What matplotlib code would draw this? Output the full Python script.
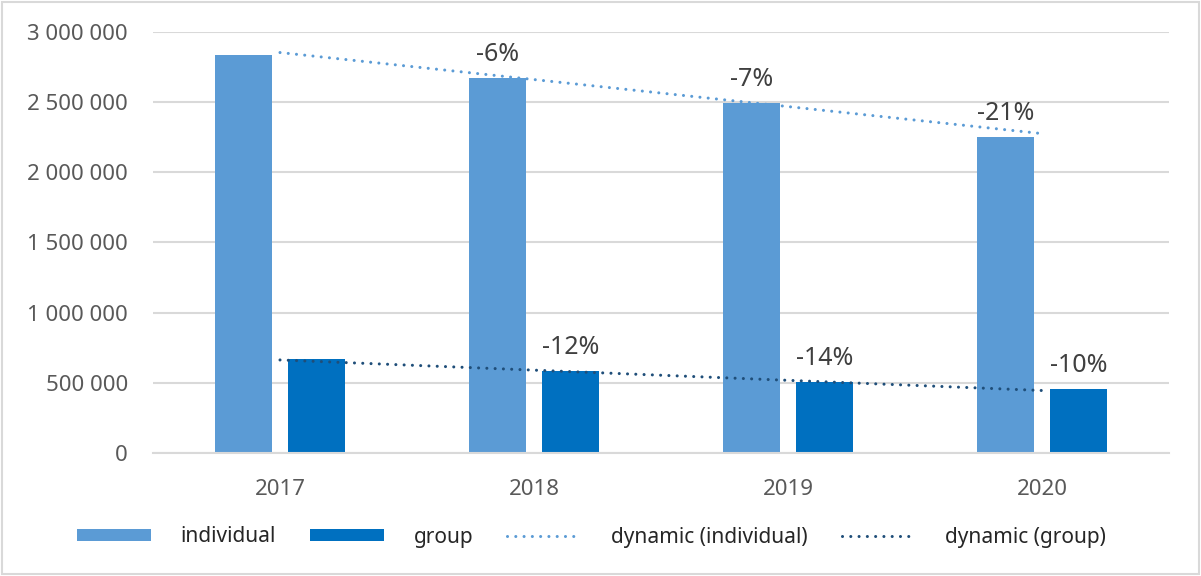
import numpy as np
import matplotlib
matplotlib.use("Agg")
import matplotlib.pyplot as plt
from matplotlib.patches import Rectangle

# data
years = ["2017", "2018", "2019", "2020"]
individual = [2834000, 2672000, 2494000, 2252000]
group = [669000, 586000, 506000, 454000]
ind_labels = ["", "-6%", "-7%", "-21%"]
grp_labels = ["", "-12%", "-14%", "-10%"]
yticks = [0, 500000, 1000000, 1500000, 2000000, 2500000, 3000000]

plt.rcParams['font.family'] = ['Noto Sans', 'DejaVu Sans']

c_ind = "#5b9bd5"
c_grp = "#0070c0"
c_trend_grp = "#1f4e79"
c_text = "#595959"
c_grid = "#d9d9d9"

W, H = 1201, 576
fig = plt.figure(figsize=(W / 100, H / 100), dpi=100)
ax = fig.add_axes([153 / W, (H - 453) / H, (1169 - 153) / W, (453 - 31.7) / H])

x = np.arange(len(years))
bw = 0.225
off = 0.144
b1 = ax.bar(x - off, individual, bw, color=c_ind, label="individual", zorder=2)
b2 = ax.bar(x + off, group, bw, color=c_grp, label="group", zorder=2)

# linear trend lines (like Excel trendline)
dots = (0, (0.01, 2.7))
p1 = np.polyfit(x, individual, 1)
p2 = np.polyfit(x, group, 1)
l1, = ax.plot(x, np.polyval(p1, x), color=c_ind, lw=2.2, linestyle=dots,
              dash_capstyle='round', label="dynamic (individual)", zorder=3)
l2, = ax.plot(x, np.polyval(p2, x), color=c_trend_grp, lw=2.2, linestyle=dots,
              dash_capstyle='round', label="dynamic (group)", zorder=3)

for i in range(len(years)):
    if ind_labels[i]:
        ax.annotate(ind_labels[i], (x[i] - off, individual[i]), xytext=(0, 17),
                    textcoords='offset points', ha='center', va='center',
                    fontsize=18, color="#404040")
    if grp_labels[i]:
        ax.annotate(grp_labels[i], (x[i] + off, group[i]), xytext=(0, 17),
                    textcoords='offset points', ha='center', va='center',
                    fontsize=18, color="#404040")

ax.set_xlim(-0.5, len(years) - 0.5)
ax.set_ylim(0, 3000000)
ax.set_yticks(yticks)
ax.set_yticklabels([f"{v:,.0f}".replace(",", " ") for v in yticks])
ax.set_xticks(x)
ax.set_xticklabels(years)
ax.tick_params(axis='y', length=0, pad=18, labelsize=16, labelcolor=c_text)
ax.tick_params(axis='x', length=0, pad=19, labelsize=16, labelcolor=c_text)
ax.grid(axis='y', color=c_grid, lw=1.5, zorder=0)
ax.set_axisbelow(True)
for s in ["top", "right", "left"]:
    ax.spines[s].set_visible(False)
ax.spines["bottom"].set_color(c_grid)
ax.spines["bottom"].set_linewidth(1.5)

fig.legend(handles=[b1, b2, l1, l2], loc='center', bbox_to_anchor=(0.4925, 1 - 537 / H),
           ncol=4, frameon=False, fontsize=15, handlelength=3.55, handleheight=0.55,
           handletextpad=1.4, columnspacing=1.65, labelcolor="#262626")

# outer chart border
fig.patches.append(Rectangle((0.002, 0.003), 0.996, 0.994, transform=fig.transFigure,
                             fill=False, edgecolor=c_grid, lw=1.5))

fig.savefig("out.png", dpi=100)
